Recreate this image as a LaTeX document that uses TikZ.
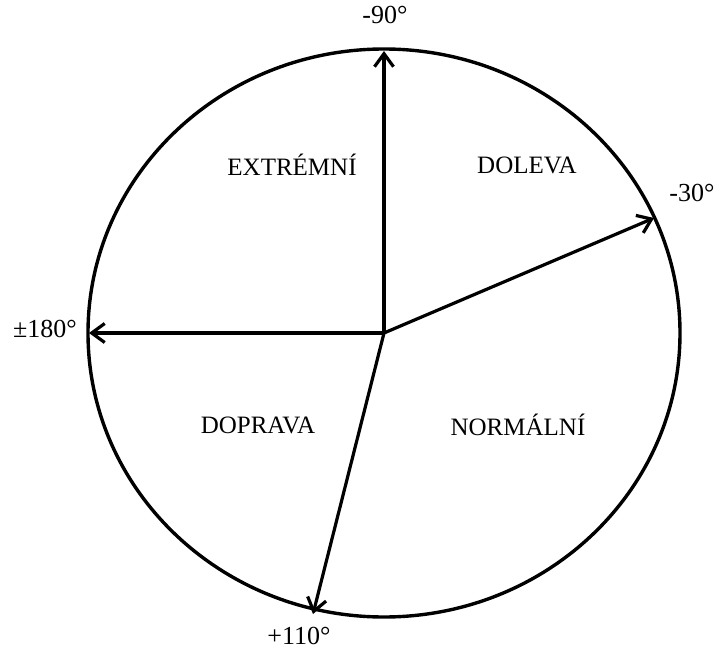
\documentclass[tikz,border=0pt]{standalone}
\usepackage{fontspec}
\setmainfont{Liberation Serif}
\usetikzlibrary{arrows.meta,positioning}
\tikzset{
  axisarrow/.style={-{Straight Barb[length=13pt,width=19pt,line width=3.2pt]},line width=3.2pt,black},
  rim/.style={line width=3.4pt,black},
  zone/.style={font=\fontsize{25}{28}\selectfont},
  deg/.style={font=\fontsize{26}{29}\selectfont},
}
\begin{document}
\begin{tikzpicture}[x=1pt,y=-1pt]
  \useasboundingbox (0,0) rectangle (717,652);
  \coordinate (O) at (384,333);
  \draw[rim] (O) ellipse [x radius=296pt,y radius=284pt];

  % axis tips on the rim
  \coordinate (t90)  at (384,51);
  \coordinate (t30)  at (654,218);
  \coordinate (t180) at (89,333);
  \coordinate (t110) at (313,614);

  \draw[axisarrow] (O) -- (t90);
  \draw[axisarrow] (O) -- (t30);
  \draw[axisarrow] (O) -- (t180);
  \draw[axisarrow] (O) -- (t110);

  \node[deg] (l90)  at (385,15)  {-90°};
  \node[deg] (l30)  at (692,193) {-30°};
  \node[deg] (l180) at (45,329)  {±180°};
  \node[deg] (l110) at (299,636) {+110°};

  \node[zone] (ext) at (292,165) {EXTRÉMNÍ};
  \node[zone] (lev) at (527,165) {DOLEVA};
  \node[zone] (pra) at (258,425) {DOPRAVA};
  \node[zone] (nor) at (518,425) {NORMÁLNÍ};
\end{tikzpicture}
\end{document}
